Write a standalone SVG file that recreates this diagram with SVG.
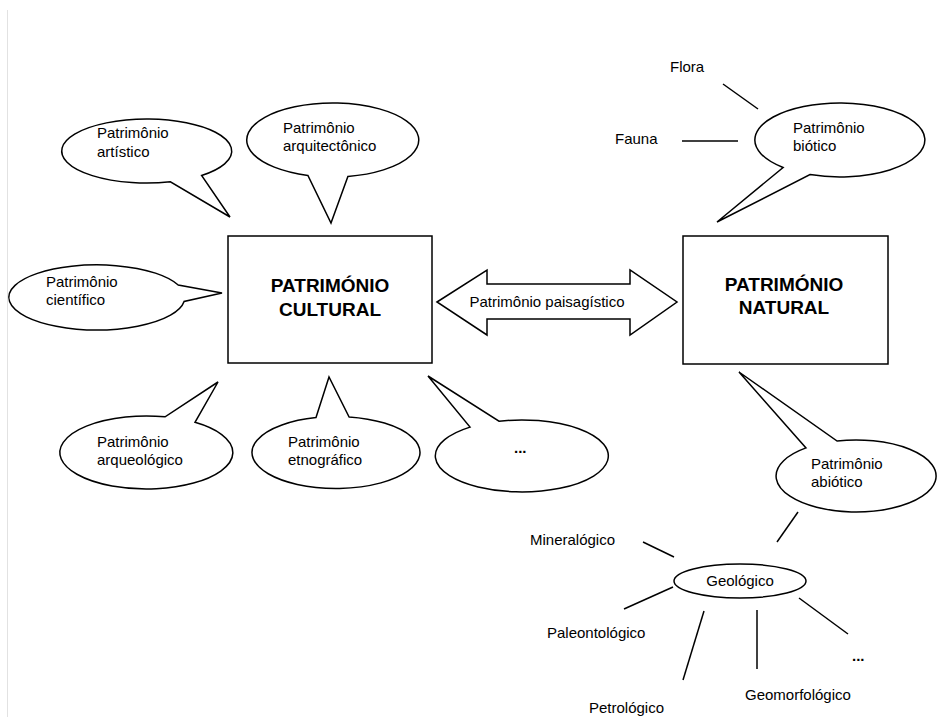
<svg xmlns="http://www.w3.org/2000/svg" width="938" height="717" viewBox="0 0 938 717">
<style>
.bg{fill:#fff}
.sh{fill:#fff;stroke:#000;stroke-width:1.5;stroke-linejoin:miter}
.ln{stroke:#000;stroke-width:1.5;fill:none}
.t{font-family:"Liberation Sans",Arial,sans-serif;font-size:15px;fill:#000}
.d{font-family:"Liberation Sans",Arial,sans-serif;font-size:15px;font-weight:bold;fill:#000}
.b{font-family:"Liberation Sans",Arial,sans-serif;font-size:19px;font-weight:bold;fill:#000;text-anchor:middle}
.c{text-anchor:middle}
</style>
<rect class="bg" x="0" y="0" width="938" height="717"/>
<line x1="7.5" y1="10" x2="7.5" y2="717" stroke="#e2e2e2" stroke-width="1"/>

<g id="cultural">
<rect class="sh" x="228" y="236" width="204" height="127"/>
<text class="b" x="330" y="292">PATRIMÓNIO</text>
<text class="b" x="330" y="316">CULTURAL</text>
</g>

<g id="natural">
<rect class="sh" x="683" y="236" width="205" height="128"/>
<text class="b" x="784" y="291">PATRIMÓNIO</text>
<text class="b" x="784" y="314">NATURAL</text>
</g>

<g id="paisagistico">
<polygon class="sh" points="437,302 487,270 487,284 630,284 630,270 677,302 630,335 630,319 487,319 487,335"/>
<text class="t c" x="547" y="307">Patrimônio paisagístico</text>
</g>

<g id="artistico">
<path class="sh" d="M201.6,175.5 A85,32 0 1 0 170.4,181.8 L230,217 Z"/>
<text class="t" x="97" y="138">Patrimônio</text>
<text class="t" x="97" y="157">artístico</text>
</g>

<g id="arquitectonico">
<path class="sh" d="M347.9,176.4 A86,37 0 1 0 307.9,175.4 L331,223 Z"/>
<text class="t" x="283" y="133">Patrimônio</text>
<text class="t" x="283" y="151">arquitectônico</text>
</g>

<g id="cientifico">
<path class="sh" d="M178.2,285 A88,32.5 0 1 0 184.1,301.5 L222,293 Z"/>
<text class="t" x="46" y="287">Patrimônio</text>
<text class="t" x="46" y="305">científico</text>
</g>

<g id="arqueologico">
<path class="sh" d="M165.1,416.85 A86.5,36.5 0 1 0 195,422.3 L218,382 Z"/>
<text class="t" x="97" y="447">Patrimônio</text>
<text class="t" x="97" y="465">arqueológico</text>
</g>

<g id="etnografico">
<path class="sh" d="M316,417.5 A84,36 0 1 0 349,416.9 L329,377 Z"/>
<text class="t" x="288" y="447">Patrimônio</text>
<text class="t" x="288" y="465">etnográfico</text>
</g>

<g id="outros-culturais">
<path class="sh" d="M470,427.1 A86.5,36 0 1 0 499,421.2 L428,376 Z"/>
<text class="d" x="514" y="453">...</text>
</g>

<g id="biotico">
<path class="sh" d="M810,174.6 A85,37 0 1 0 783.1,167.5 L717,222 Z"/>
<text class="t" x="793" y="133">Patrimônio</text>
<text class="t" x="793" y="151">biótico</text>
</g>

<g id="abiotico">
<path class="sh" d="M806,447.9 A80,36 0 1 0 837.1,441 L739,372 Z"/>
<text class="t" x="811" y="469">Patrimônio</text>
<text class="t" x="811" y="487">abiótico</text>
</g>

<g id="geologico">
<ellipse class="sh" cx="740" cy="581" rx="66" ry="17"/>
<text class="t c" x="740" y="586">Geológico</text>
</g>

<g id="flora"><text class="t" x="670" y="72">Flora</text></g>
<g id="fauna"><text class="t" x="615" y="144">Fauna</text></g>
<g id="mineralogico"><text class="t" x="530" y="545">Mineralógico</text></g>
<g id="paleontologico"><text class="t" x="547" y="638">Paleontológico</text></g>
<g id="petrologico"><text class="t" x="589" y="713">Petrológico</text></g>
<g id="geomorfologico"><text class="t" x="745" y="700">Geomorfológico</text></g>
<g id="outros-geologicos"><text class="d" x="852" y="661">...</text></g>

<g id="connectors">
<line class="ln" x1="723" y1="84" x2="758" y2="109"/>
<line class="ln" x1="682" y1="141" x2="738" y2="141"/>
<line class="ln" x1="798" y1="512" x2="777" y2="542"/>
<line class="ln" x1="643" y1="542" x2="674" y2="557"/>
<line class="ln" x1="624" y1="609" x2="673" y2="587"/>
<line class="ln" x1="704" y1="611" x2="683" y2="680"/>
<line class="ln" x1="757" y1="610" x2="757" y2="669"/>
<line class="ln" x1="799" y1="598" x2="848" y2="634"/>
</g>
</svg>
